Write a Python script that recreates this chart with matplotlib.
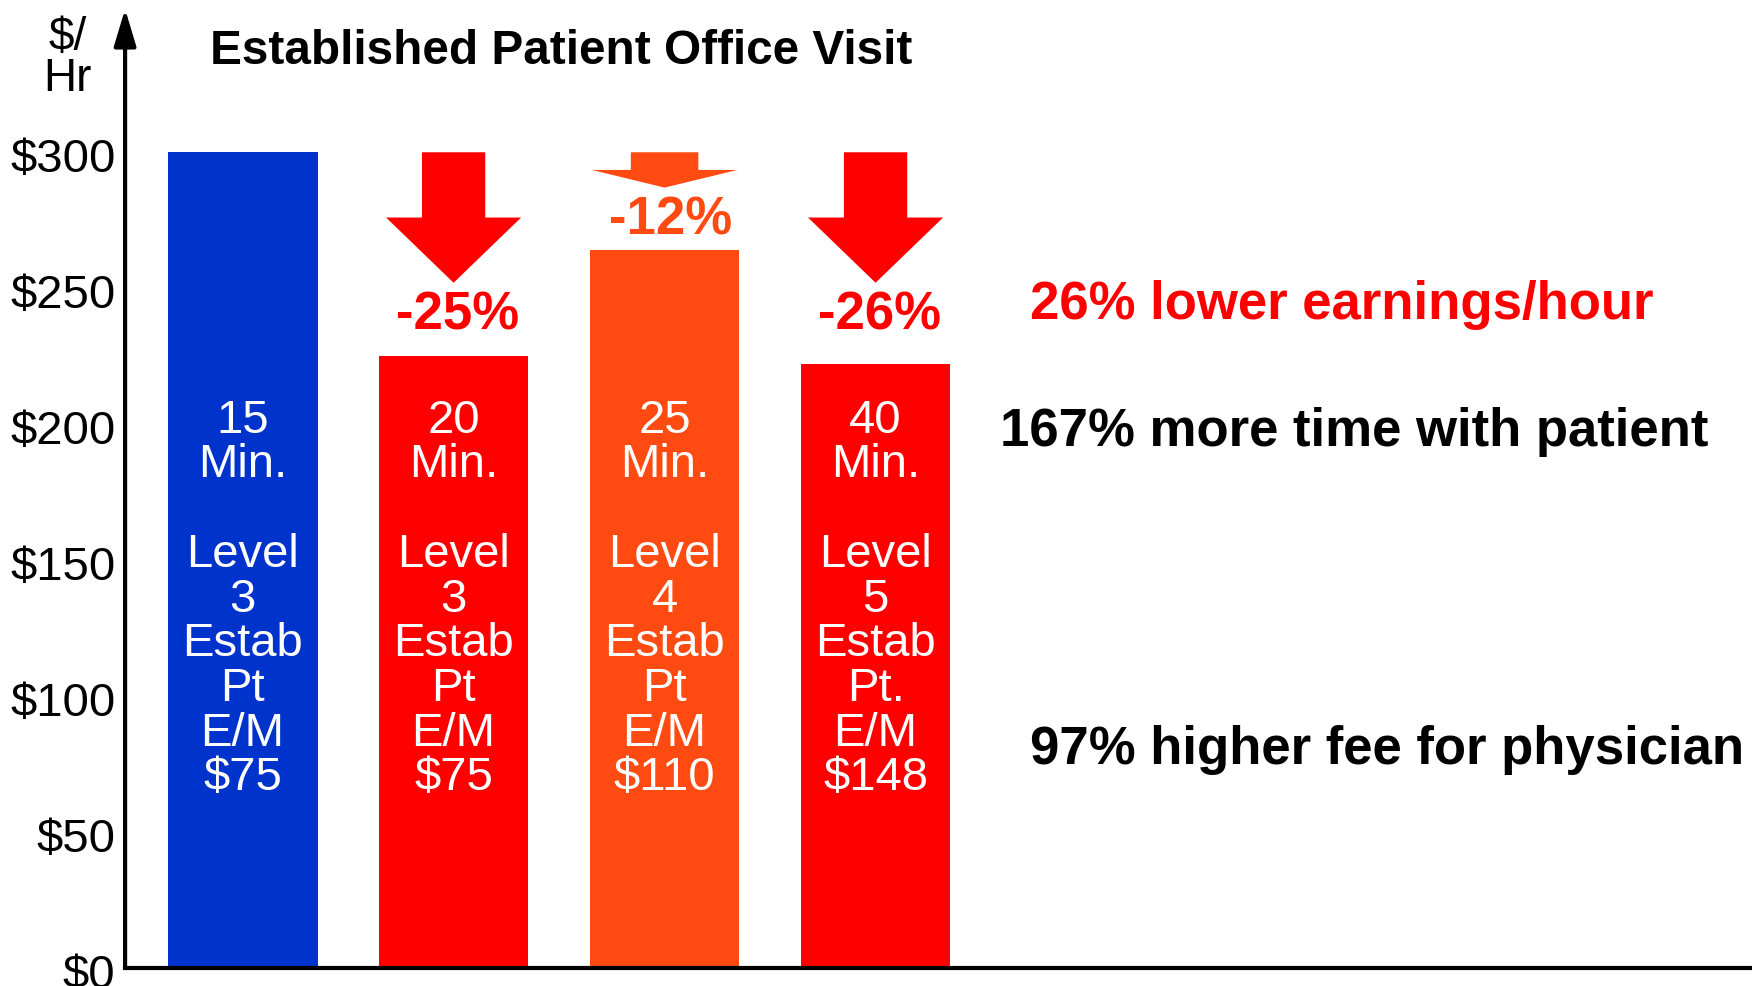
import matplotlib
matplotlib.use('Agg')
import matplotlib.pyplot as plt
from matplotlib.patches import Polygon
from matplotlib.transforms import offset_copy

plt.rcParams['font.family'] = ['Liberation Sans', 'DejaVu Sans']

# $/hour for each visit type
minutes = ['15', '20', '25', '40']
levels = ['3', '3', '4', '5']
pt_label = ['Pt', 'Pt', 'Pt', 'Pt.']
fees = ['$75', '$75', '$110', '$148']
per_hour = [300, 225, 264, 222]
bar_colors = ['#0033CC', '#FF0000', '#FF4A12', '#FF0000']

changes = ['', '-25%', '-12%', '-26%']
change_y = [0, 240, 275, 240]
# arrow: (shaft half width, head half width, head base, tip)
arrows = [None, (0.15, 0.32, 276, 252), (0.16, 0.345, 293.5, 287), (0.15, 0.32, 276, 252)]

yticks = [0, 50, 100, 150, 200, 250, 300]
ytick_labels = ['$0', '$50', '$100', '$150', '$200', '$250', '$300']

notes = ['26% lower earnings/hour', '167% more time with patient', '97% higher fee for physician']
note_x = [3.73, 3.59, 3.73]
note_y = [244, 197, 80]
note_colors = ['#FF0000', 'black', 'black']

fig = plt.figure(figsize=(17.52, 9.86), dpi=100)
ax = fig.add_axes([0.0714, 0.0183, 1 - 0.0714, 0.9726])

x = list(range(len(per_hour)))
ax.bar(x, per_hour, width=0.71, color=bar_colors)

for i in x:
    txt = f'{minutes[i]}\nMin.\n\nLevel\n{levels[i]}\nEstab\n{pt_label[i]}\nE/M\n{fees[i]}'
    ax.text(i, 135.5, txt, ha='center', va='center', color='white', fontsize=34,
            linespacing=1.02)
    if arrows[i] is not None:
        sw, hw, base, tip = arrows[i]
        c = bar_colors[i]
        top = per_hour[0]
        poly = [(i - sw, top), (i + sw, top), (i + sw, base), (i + hw, base),
                (i, tip), (i - hw, base), (i - sw, base)]
        ax.add_patch(Polygon(poly, closed=True, color=c, lw=0))
        ax.text(i + (0.03 if i == 2 else 0.02), change_y[i], changes[i], ha='center', va='center',
                color=c, fontsize=38, fontweight='bold')

for t, tx, ty, tc in zip(notes, note_x, note_y, note_colors):
    ax.text(tx, ty, t, ha='left', va='center', color=tc, fontsize=38, fontweight='bold')

ax.text(-0.155, 337, 'Established Patient Office Visit', ha='left', va='center',
        fontsize=34.4, fontweight='bold')
ax.text(-0.83, 334.5, '$/\nHr', ha='center', va='center', fontsize=33,
        linespacing=0.9, clip_on=False)

ax.set_xlim(-0.557, 7.154)
ax.set_ylim(0, 352.7)
ax.set_yticks(yticks)
ax.set_yticklabels(ytick_labels, fontsize=34)
ax.set_xticks([])
ax.tick_params(axis='y', length=0, pad=7)
for lab in ax.get_yticklabels():
    lab.set_transform(offset_copy(lab.get_transform(), fig=fig, y=-2, units='points'))
for s in ['top', 'right', 'left']:
    ax.spines[s].set_visible(False)
ax.spines['bottom'].set_linewidth(3)

ax.annotate('', xy=(-0.557, 352.7), xytext=(-0.557, 0),
            arrowprops=dict(arrowstyle='-|>,head_length=1.5,head_width=0.45',
                            lw=3, color='black', shrinkA=0, shrinkB=0,
                            mutation_scale=15),
            annotation_clip=False)

fig.savefig('out.png', dpi=100)
